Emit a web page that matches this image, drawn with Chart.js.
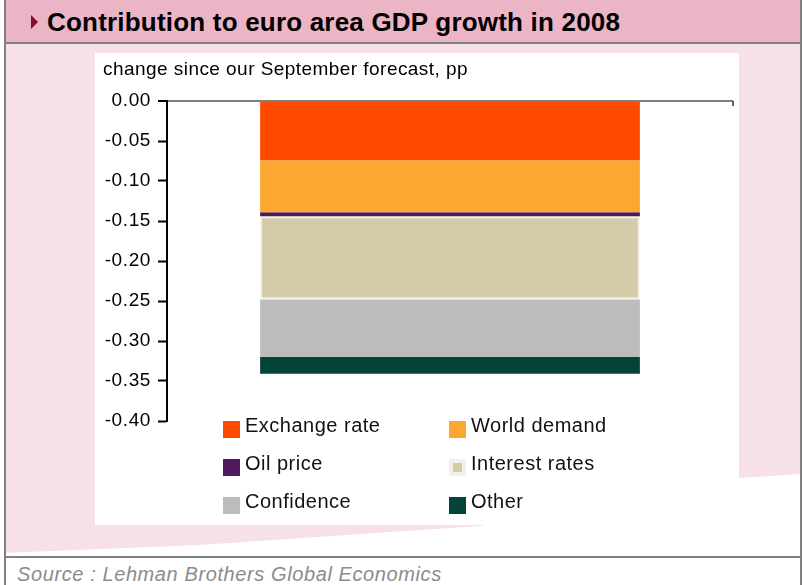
<!DOCTYPE html>
<html>
<head>
<meta charset="utf-8">
<script src="https://cdn.jsdelivr.net/npm/chart.js@4.4.1/dist/chart.umd.min.js"></script>
<style>
  html, body { margin: 0; padding: 0; }
  body { width: 803px; height: 585px; position: relative; overflow: hidden; background: #fff;
         font-family: "Liberation Sans", Arial, sans-serif; }
  .abs { position: absolute; }
  #header { left: 4px; top: 0; width: 798px; height: 42px; background: #ebb5c5; }
  #headerRule { left: 4px; top: 42px; width: 798px; height: 2px; background: #808080; }
  #bodyBg { left: 4px; top: 44px; width: 798px; height: 512px; background: #f7e1e9; overflow: hidden; }
  #footerRule { left: 4px; top: 556px; width: 798px; height: 2px; background: #808080; }
  #leftRule { left: 4px; top: 0; width: 2px; height: 585px; background: #808080; }
  #rightRule { left: 800px; top: 0; width: 2px; height: 585px; background: #808080; }
  #marker { left: 31px; top: 15px; width: 0; height: 0; border-top: 7px solid transparent;
            border-bottom: 7px solid transparent; border-left: 7px solid #8b0b2c; }
  #title { left: 47px; top: 7px; font-weight: bold; font-size: 26px; line-height: 30px; letter-spacing: 0.2px;
           color: #000; white-space: nowrap; }
  #source { left: 17px; top: 563px; font-style: italic; font-size: 20px; line-height: 22px; letter-spacing: 0.6px;
            color: #8c8c8c; white-space: nowrap; }
  #plotBox { left: 95px; top: 53px; width: 644px; height: 472px; background: #fff; }
</style>
</head>
<body>
<div id="header" class="abs"></div>
<div id="bodyBg" class="abs">
  <svg width="798" height="512" style="position:absolute;left:0;top:0">
    <!-- white sweep across the lower part of the panel -->
    <path d="M0,509 L196,501 L476,482 L736,434 L798,430 L798,512 L0,512 Z" fill="#ffffff"/>
  </svg>
</div>
<div id="headerRule" class="abs"></div>
<div id="footerRule" class="abs"></div>
<div id="leftRule" class="abs"></div>
<div id="rightRule" class="abs"></div>
<div id="marker" class="abs"></div>
<div id="title" class="abs">Contribution to euro area GDP growth in 2008</div>
<div id="source" class="abs">Source : Lehman Brothers Global Economics</div>
<div id="plotBox" class="abs"><canvas id="chart"></canvas></div>

<script>
// Contributions to the revision of 2008 euro area GDP growth (pp)
const categories = ['2008'];
const seriesNames = ['Exchange rate', 'World demand', 'Oil price', 'Interest rates', 'Confidence', 'Other'];
const exchangeRate = [-0.074];
const worldDemand = [-0.065];
const oilPrice = [-0.005];
const interestRates = [-0.104];
const confidence = [-0.072];
const other = [-0.021];
const yTickValues = [0, -0.05, -0.10, -0.15, -0.20, -0.25, -0.30, -0.35, -0.40];
const axisTitle = 'change since our September forecast, pp';

const seriesValues = [exchangeRate, worldDemand, oilPrice, interestRates, confidence, other];
const seriesColors = ['#ff4b00', '#fba732', '#4f1a5b', '#d6cba8', '#bcbcbc', '#034439'];

const FONT = '"Liberation Sans", Arial, sans-serif';

const datasets = seriesNames.map((name, i) => ({
  label: name,
  data: seriesValues[i],
  backgroundColor: seriesColors[i],
  borderColor: name === 'Interest rates' ? '#f3f0e9' : seriesColors[i],
  borderWidth: name === 'Interest rates' ? 2 : 0,
  borderSkipped: false,
  categoryPercentage: 1.0,
  barPercentage: 0.671
}));

// Slightly opened text spacing for tick labels, plus the axis title, end tick and two-column legend
const decorations = {
  id: 'decorations',
  beforeLayout(chart) { chart.ctx.letterSpacing = '0.6px'; },
  beforeDraw(chart) { chart.ctx.letterSpacing = '0.6px'; },
  afterDraw(chart) {
    const ctx = chart.ctx;
    const area = chart.chartArea;
    ctx.save();
    // small tick at the right end of the zero line
    ctx.strokeStyle = '#333';
    ctx.lineWidth = 1.5;
    ctx.beginPath();
    ctx.moveTo(area.right, area.top);
    ctx.lineTo(area.right, area.top + 5);
    ctx.stroke();

    // axis title above the plot
    ctx.fillStyle = '#000';
    ctx.font = '19px ' + FONT;
    ctx.letterSpacing = '0.45px';
    ctx.textAlign = 'left';
    ctx.textBaseline = 'alphabetic';
    ctx.fillText(axisTitle, 8, 22);

    // legend: two columns, three rows
    const colX = [128, 354];
    const rowY = [area.bottom, area.bottom + 38, area.bottom + 76];
    ctx.font = '20px ' + FONT;
    ctx.letterSpacing = '0.5px';
    chart.data.datasets.forEach((ds, i) => {
      const x = colX[i % 2];
      const y = rowY[Math.floor(i / 2)];
      ctx.fillStyle = ds.backgroundColor;
      ctx.fillRect(x, y, 17, 17);
      if (ds.borderWidth > 0) {
        ctx.strokeStyle = ds.borderColor;
        ctx.lineWidth = ds.borderWidth * 2;
        ctx.strokeRect(x + ds.borderWidth, y + ds.borderWidth, 17 - 2 * ds.borderWidth, 17 - 2 * ds.borderWidth);
      }
      ctx.fillStyle = '#111';
      ctx.fillText(ds.label, x + 22, y + 11);
    });
    ctx.restore();
  }
};

new Chart(document.getElementById('chart'), {
  type: 'bar',
  data: { labels: categories, datasets },
  options: {
    responsive: true,
    maintainAspectRatio: false,
    animation: false,
    events: [],
    layout: { padding: { left: 0, top: 48, right: 6, bottom: 104 } },
    plugins: { legend: { display: false }, tooltip: { enabled: false }, title: { display: false } },
    scales: {
      x: { stacked: true, display: false },
      y: {
        stacked: true,
        min: -0.40,
        max: 0,
        afterBuildTicks(scale) { scale.ticks = yTickValues.map(v => ({ value: v })); },
        afterFit(scale) { scale.width = 72; },
        border: { display: true, color: '#000', width: 2 },
        grid: {
          drawOnChartArea: true,
          color: c => (c.tick && c.tick.value === 0 ? '#808080' : 'rgba(0,0,0,0)'),
          lineWidth: c => (c.tick && c.tick.value === 0 ? 2 : 1),
          tickColor: '#000',
          tickWidth: 2,
          tickLength: 9
        },
        ticks: {
          color: '#000',
          padding: 7,
          font: { family: FONT, size: 19 },
          callback: v => Number(v).toFixed(2)
        }
      }
    }
  },
  plugins: [decorations]
});
</script>
</body>
</html>
